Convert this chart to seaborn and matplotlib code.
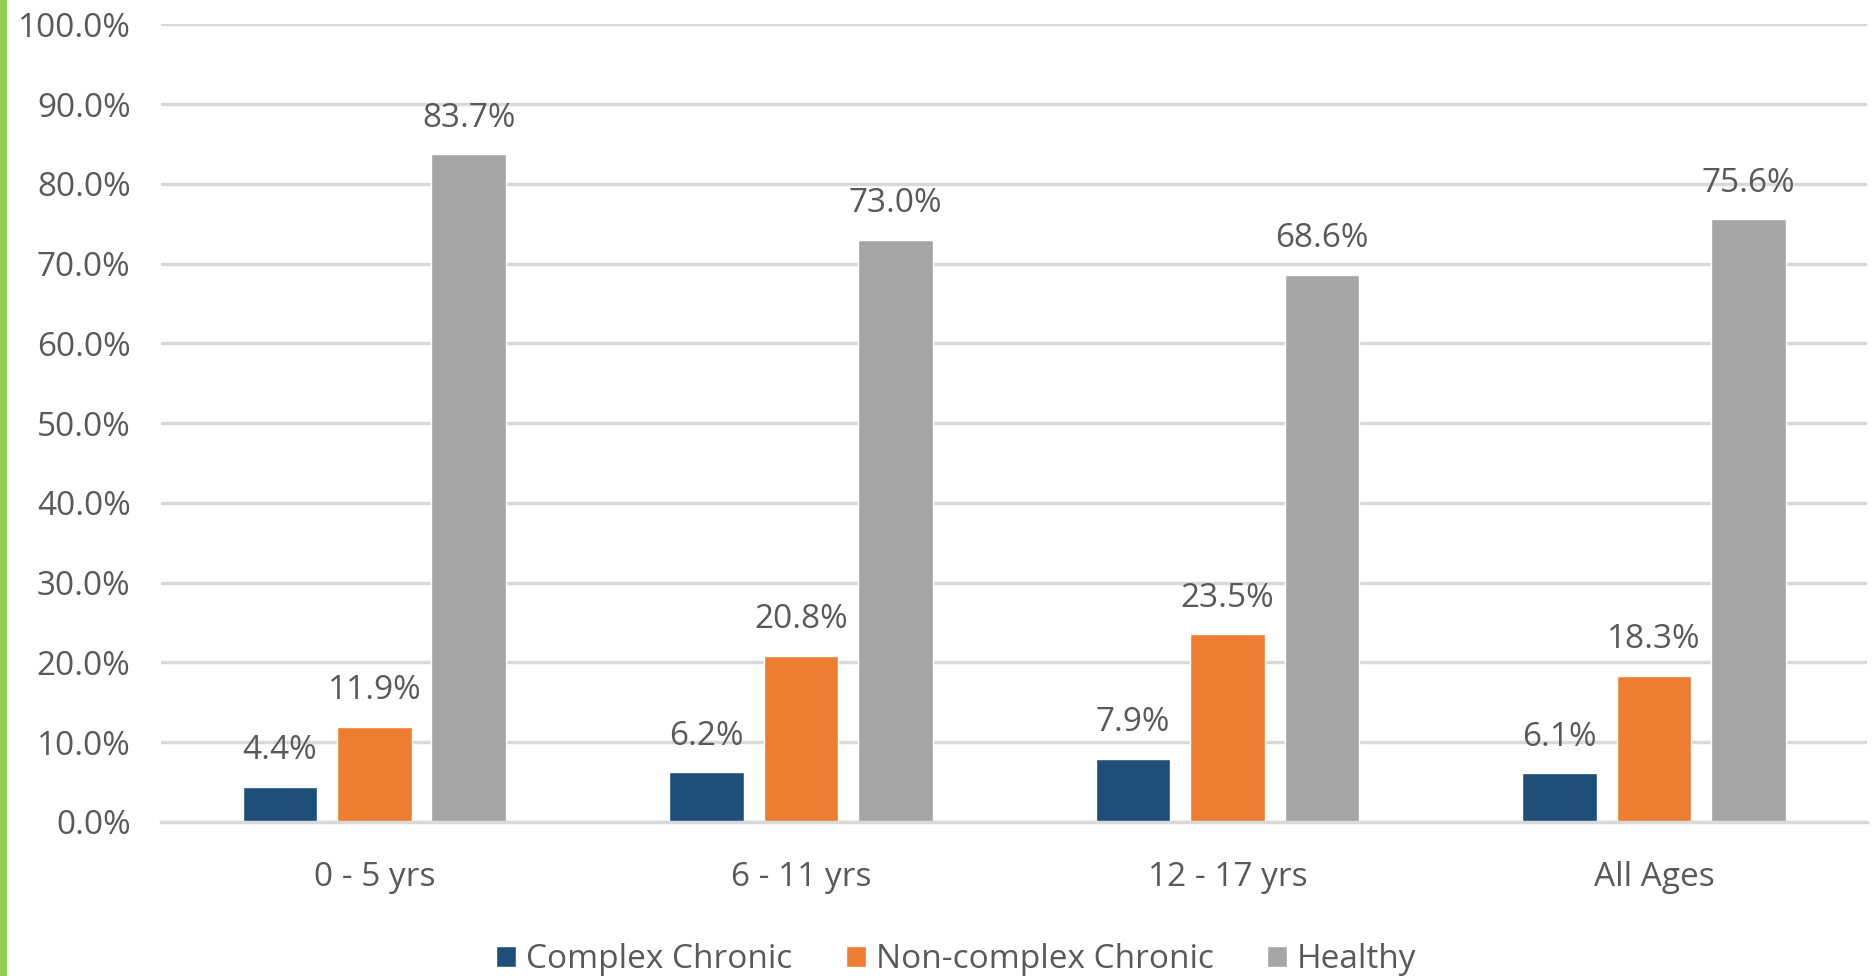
import matplotlib
matplotlib.use("Agg")
import matplotlib.pyplot as plt
import seaborn as sns
import pandas as pd
from matplotlib.patches import Rectangle
from matplotlib.ticker import FuncFormatter

categories = ["0 - 5 yrs", "6 - 11 yrs", "12 - 17 yrs", "All Ages"]
series_names = ["Complex Chronic", "Non-complex Chronic", "Healthy"]
complex_chronic = [4.4, 6.2, 7.9, 6.1]
non_complex_chronic = [11.9, 20.8, 23.5, 18.3]
healthy = [83.7, 73.0, 68.6, 75.6]
colors = ["#1F4E79", "#ED7D31", "#A5A5A5"]

rows = []
for name, vals in zip(series_names, [complex_chronic, non_complex_chronic, healthy]):
    for c, v in zip(categories, vals):
        rows.append({"Age": c, "Series": name, "Value": v})
df = pd.DataFrame(rows)

sns.set_theme(style="white")
plt.rcParams['font.family'] = ['Open Sans', 'DejaVu Sans']
text_color = "#595959"
fs = 24

fig = plt.figure(figsize=(18.73, 9.76), dpi=100)
ax = fig.add_axes([0.086, 0.158, 0.911, 0.817])

sns.barplot(data=df, x="Age", y="Value", hue="Series", palette=colors,
            order=categories, hue_order=series_names, width=0.664, gap=0.21,
            ax=ax, saturation=1, errorbar=None, legend=True)

ax.set_ylim(0, 100)
ax.set_xlim(-0.5, 3.5)
ax.set_yticks(range(0, 101, 10))
ax.yaxis.set_major_formatter(FuncFormatter(lambda v, p: f"{v:.1f}%"))
ax.grid(axis="y", color="#D9D9D9", linewidth=2.5)
ax.set_axisbelow(True)
for s in ["top", "right", "left"]:
    ax.spines[s].set_visible(False)
ax.spines["bottom"].set_color("#D9D9D9")
ax.spines["bottom"].set_linewidth(2.5)
ax.set_xlabel("")
ax.set_ylabel("")
ax.tick_params(axis="both", colors=text_color, labelsize=fs, length=0)
ax.tick_params(axis="x", pad=28)
ax.tick_params(axis="y", pad=22)

for cont in ax.containers:
    ax.bar_label(cont, labels=[f"{v:.1f}%" for v in cont.datavalues],
                 padding=14, fontsize=fs, color=text_color)

handles, labels = ax.get_legend_handles_labels()
ax.legend(handles, labels, loc="center", bbox_to_anchor=(0.466, -0.1725),
          ncol=3, frameon=False, fontsize=fs, labelcolor=text_color,
          handlelength=0.6, handleheight=0.6, handletextpad=0.3, columnspacing=1.6)

fig.add_artist(Rectangle((0, 0), 7 / 1873, 1, transform=fig.transFigure,
                         color="#92D050", linewidth=0))

fig.savefig("out.png", dpi=100, facecolor="white")
